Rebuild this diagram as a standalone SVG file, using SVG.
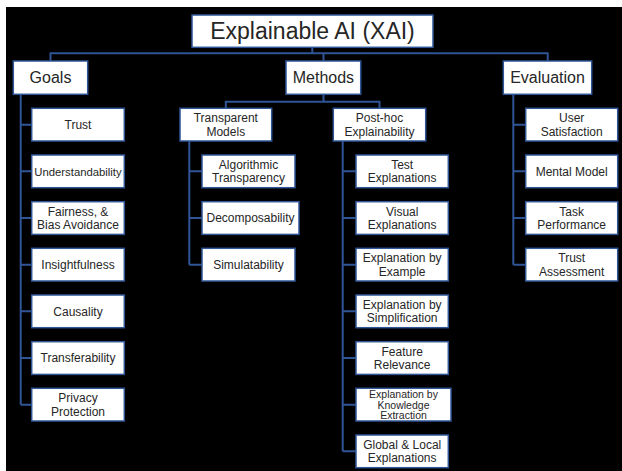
<svg xmlns="http://www.w3.org/2000/svg" width="622" height="471" viewBox="0 0 622 471">
<style>
.box{fill:#ffffff;stroke:#2f5597;stroke-width:1.5}
.ln{fill:none;stroke:#2f5597;stroke-width:2}
text{font-family:"Liberation Sans",Arial,sans-serif;fill:#262626;text-anchor:middle;font-size:12px}
.t0{font-size:23px}
.t1{font-size:16px}
.t3{font-size:10.5px}
</style>
<rect x="0" y="0" width="622" height="471" fill="#ffffff"/>
<rect x="6" y="7" width="616" height="464" fill="#000000"/>
<g id="connectors">
<path class="ln" d="M312.3 47.3V53.3M50.5 61V53.3H547.7V61M323.5 53.3V61"/>
<path class="ln" d="M20.7 94.3V404.7M20.7 124.7H31.7M20.7 171.3H31.7M20.7 218H31.7M20.7 264.7H31.7M20.7 311.3H31.7M20.7 358H31.7M20.7 404.7H31.7"/>
<path class="ln" d="M323.5 94.3V101.7M225.8 108.3V101.7H379.5V108.3"/>
<path class="ln" d="M189.3 141V264.7M189.3 171.3H202M189.3 218H202M189.3 264.7H202"/>
<path class="ln" d="M342.7 141V451.3M342.7 171.3H356M342.7 218H356M342.7 264.7H356M342.7 311.3H356M342.7 358H356M342.7 404.7H356M342.7 451.3H356"/>
<path class="ln" d="M513.3 94.3V264.7M513.3 124.7H525.7M513.3 171.3H525.7M513.3 218H525.7M513.3 264.7H525.7"/>
</g>
<g id="root"><rect class="box" x="192" y="15" width="241" height="32.3"/><text class="t0" x="312.5" y="39">Explainable AI (XAI)</text></g>
<g id="goals"><rect class="box" x="13.3" y="61" width="74.4" height="33.3"/><text class="t1" x="50.5" y="83.4">Goals</text></g>
<g id="methods"><rect class="box" x="286" y="61" width="74.7" height="33.3"/><text class="t1" x="323.4" y="83.4">Methods</text></g>
<g id="evaluation"><rect class="box" x="503.3" y="61" width="88.4" height="33.3"/><text class="t1" x="547.5" y="83.4">Evaluation</text></g>
<g id="g-trust"><rect class="box" x="31.7" y="108.3" width="92.6" height="32.7"/><text x="78" y="129">Trust</text></g>
<g id="g-understandability"><rect class="box" x="31.7" y="155" width="92.6" height="32.7"/><text x="78" y="175.5" style="font-size:11.3px">Understandability</text></g>
<g id="g-fairness"><rect class="box" x="31.7" y="201.7" width="92.6" height="32.7"/><text x="78" y="215.5">Fairness, &amp;</text><text x="78" y="229">Bias Avoidance</text></g>
<g id="g-insightfulness"><rect class="box" x="31.7" y="248.3" width="92.6" height="32.7"/><text x="78" y="269">Insightfulness</text></g>
<g id="g-causality"><rect class="box" x="31.7" y="295" width="92.6" height="32.7"/><text x="78" y="315.6">Causality</text></g>
<g id="g-transferability"><rect class="box" x="31.7" y="341.7" width="92.6" height="32.7"/><text x="78" y="362.3">Transferability</text></g>
<g id="g-privacy"><rect class="box" x="31.7" y="388.3" width="92.6" height="32.7"/><text x="78" y="402.2">Privacy</text><text x="78" y="415.7">Protection</text></g>
<g id="m-transparent"><rect class="box" x="180" y="108.3" width="91.7" height="32.7"/><text x="225.8" y="122.2">Transparent</text><text x="225.8" y="135.7">Models</text></g>
<g id="m-posthoc"><rect class="box" x="333.3" y="108.3" width="92.4" height="32.7"/><text x="379.5" y="122.2">Post-hoc</text><text x="379.5" y="135.7">Explainability</text></g>
<g id="t-algorithmic"><rect class="box" x="202" y="155" width="93" height="32.7"/><text x="248.5" y="168.8">Algorithmic</text><text x="248.5" y="182.3">Transparency</text></g>
<g id="t-decomposability"><rect class="box" x="202" y="201.7" width="97" height="32.7"/><text x="250.5" y="222.3">Decomposability</text></g>
<g id="t-simulatability"><rect class="box" x="202" y="248.3" width="93" height="32.7"/><text x="248.5" y="269">Simulatability</text></g>
<g id="p-test"><rect class="box" x="356" y="155" width="92.3" height="32.7"/><text x="402.2" y="168.8">Test</text><text x="402.2" y="182.3">Explanations</text></g>
<g id="p-visual"><rect class="box" x="356" y="201.7" width="92.3" height="32.7"/><text x="402.2" y="215.5">Visual</text><text x="402.2" y="229">Explanations</text></g>
<g id="p-example"><rect class="box" x="356" y="248.3" width="92.3" height="32.7"/><text x="402.2" y="262.2">Explanation by</text><text x="402.2" y="275.7">Example</text></g>
<g id="p-simplification"><rect class="box" x="356" y="295" width="92.3" height="32.7"/><text x="402.2" y="308.8">Explanation by</text><text x="402.2" y="322.3">Simplification</text></g>
<g id="p-feature"><rect class="box" x="356" y="341.7" width="92.3" height="32.7"/><text x="402.2" y="355.5">Feature</text><text x="402.2" y="369">Relevance</text></g>
<g id="p-knowledge"><rect class="box" x="356" y="388.3" width="95" height="32.7"/><text class="t3" x="403.5" y="397.5">Explanation by</text><text class="t3" x="403.5" y="408.5">Knowledge</text><text class="t3" x="403.5" y="419.3">Extraction</text></g>
<g id="p-global"><rect class="box" x="356" y="435" width="92.3" height="32.7"/><text x="402.2" y="448.8">Global &amp; Local</text><text x="402.2" y="462.3">Explanations</text></g>
<g id="e-user"><rect class="box" x="525.7" y="108.3" width="92" height="32.7"/><text x="571.7" y="122.2">User</text><text x="571.7" y="135.7">Satisfaction</text></g>
<g id="e-mental"><rect class="box" x="525.7" y="155" width="92" height="32.7"/><text x="571.7" y="175.6">Mental Model</text></g>
<g id="e-task"><rect class="box" x="525.7" y="201.7" width="92" height="32.7"/><text x="571.7" y="215.5">Task</text><text x="571.7" y="229">Performance</text></g>
<g id="e-trust"><rect class="box" x="525.7" y="248.3" width="92" height="32.7"/><text x="571.7" y="262.2">Trust</text><text x="571.7" y="275.7">Assessment</text></g>
</svg>
